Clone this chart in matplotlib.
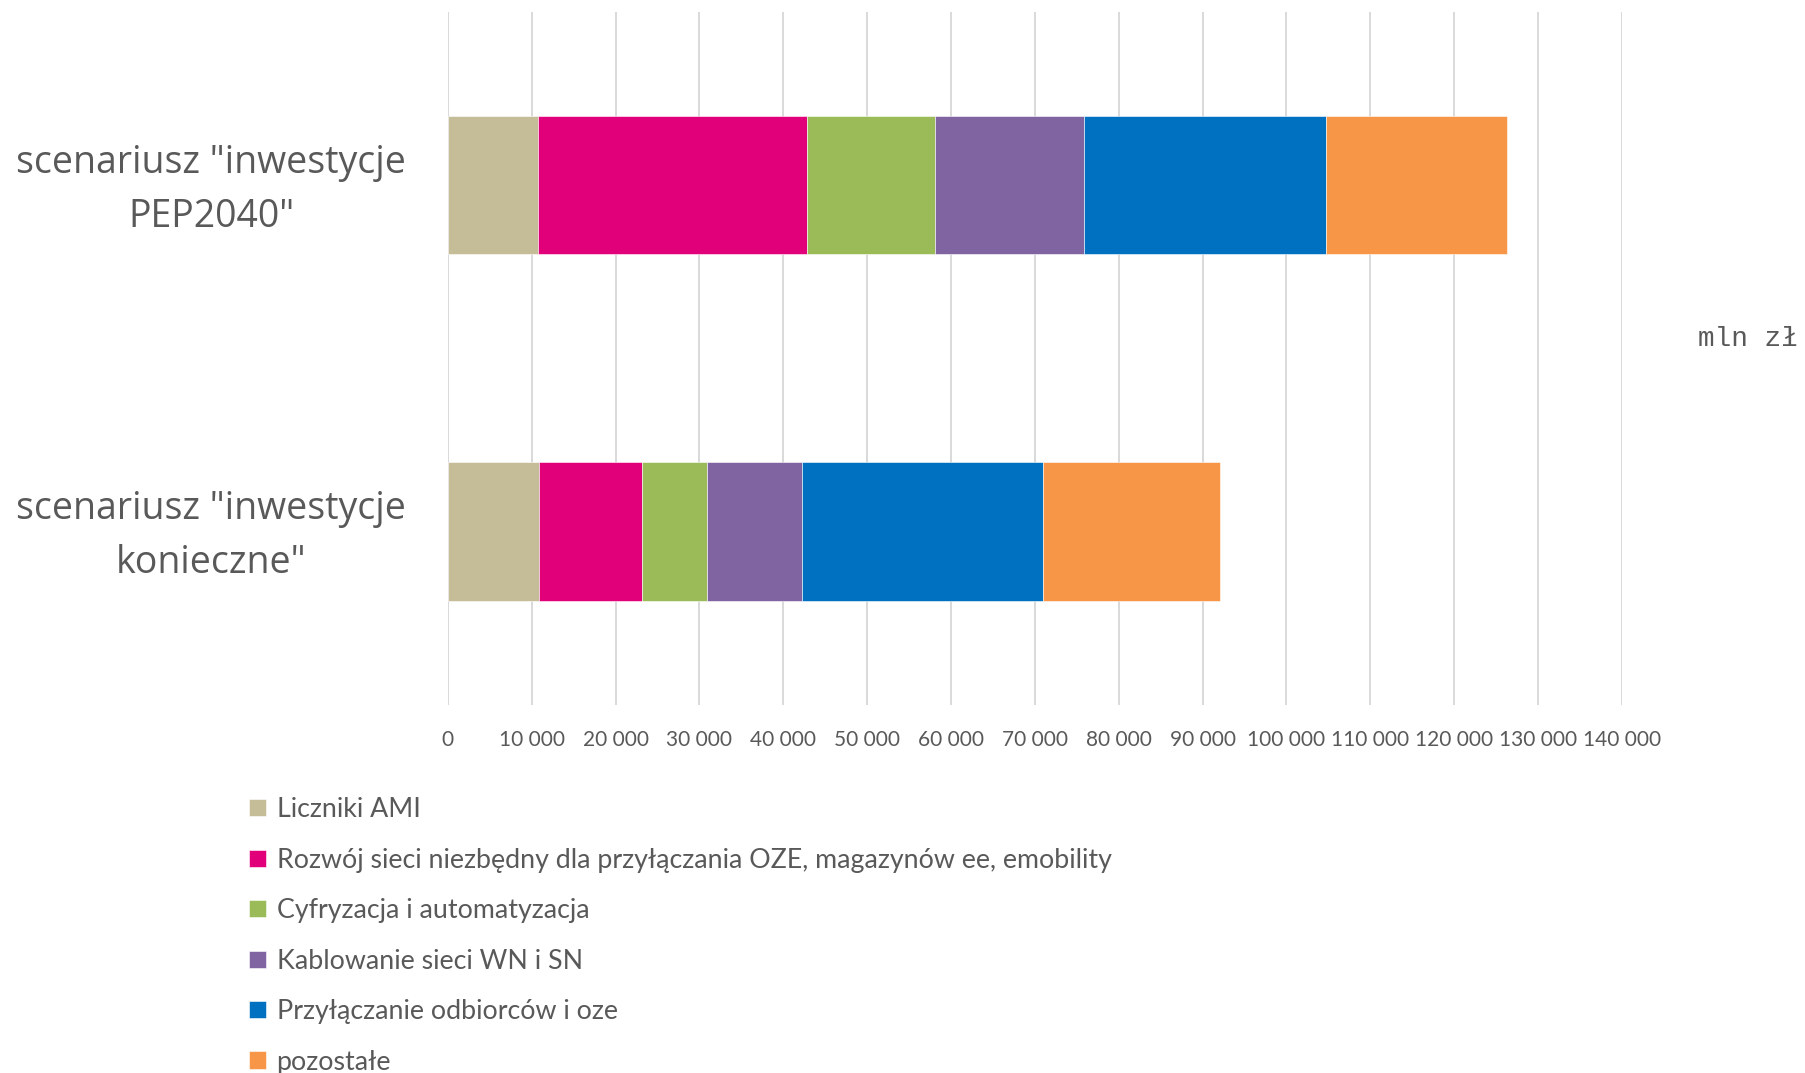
import matplotlib
matplotlib.use("Agg")
import matplotlib.pyplot as plt
import matplotlib.transforms as mtransforms
from matplotlib.ticker import FuncFormatter

scenarios = ['scenariusz "inwestycje\nPEP2040"', 'scenariusz "inwestycje\nkonieczne"']
series = ['Liczniki AMI',
          'Rozwój sieci niezbędny dla przyłączania OZE, magazynów ee, emobility',
          'Cyfryzacja i automatyzacja',
          'Kablowanie sieci WN i SN',
          'Przyłączanie odbiorców i oze',
          'pozostałe']
ami = [10800, 10850]
rozwoj = [32050, 12250]
cyfryzacja = [15230, 7850]
kablowanie = [17740, 11250]
przylaczanie = [28950, 28800]
pozostale = [21590, 21130]
colors = ['#c4bd97', '#e2007a', '#9bbb59', '#8064a2', '#0070c0', '#f79646']

values = [ami, rozwoj, cyfryzacja, kablowanie, przylaczanie, pozostale]
grey = '#595959'

fig = plt.figure(figsize=(18.06, 10.73), dpi=100)
ax = fig.add_axes([0.248, 0.343, 0.650, 0.646])

left = [0, 0]
ypos = list(range(len(scenarios)))
for name, vals, col in zip(series, values, colors):
    ax.barh(ypos, vals, left=left, height=0.4, color=col, label=name,
            edgecolor='white', linewidth=0.4, zorder=3)
    left = [a + b for a, b in zip(left, vals)]

ax.set_xlim(0, 140000)
ax.set_ylim(1.5, -0.5)
ax.set_xticks(range(0, 140001, 10000))
ax.xaxis.set_major_formatter(FuncFormatter(lambda v, p: f'{int(v):,}'.replace(',', ' ')))
ax.grid(axis='x', color='#d9d9d9', linewidth=1.4, zorder=0)
for s in ax.spines.values():
    s.set_visible(False)
ax.tick_params(axis='both', length=0)
ax.tick_params(axis='x', pad=18, labelsize=15, labelcolor=grey)
ax.set_yticks(ypos)
ax.set_yticklabels(scenarios, fontsize=27, color=grey, family='Open Sans',
                   multialignment='center', linespacing=1.55)
ax.tick_params(axis='y', pad=30)
# nudge the two-line category labels up a little
shift = mtransforms.ScaledTranslation(0, 8 / 100, fig.dpi_scale_trans)
for t in ax.get_yticklabels():
    t.set_transform(t.get_transform() + shift)
for t in ax.get_xticklabels():
    t.set_family('Lato')

fig.text(0.940, 0.684, 'mln zł', family='Liberation Mono', fontsize=20,
         color=grey, va='center', ha='left')

leg = fig.legend(loc='upper left', bbox_to_anchor=(0.138, 0.257), frameon=False,
                 prop={'family': 'Lato', 'size': 19.3}, labelcolor=grey,
                 handlelength=0.62, handleheight=0.62, handletextpad=0.4,
                 labelspacing=0.95, borderpad=0, borderaxespad=0)

fig.savefig('out.png', dpi=100)
